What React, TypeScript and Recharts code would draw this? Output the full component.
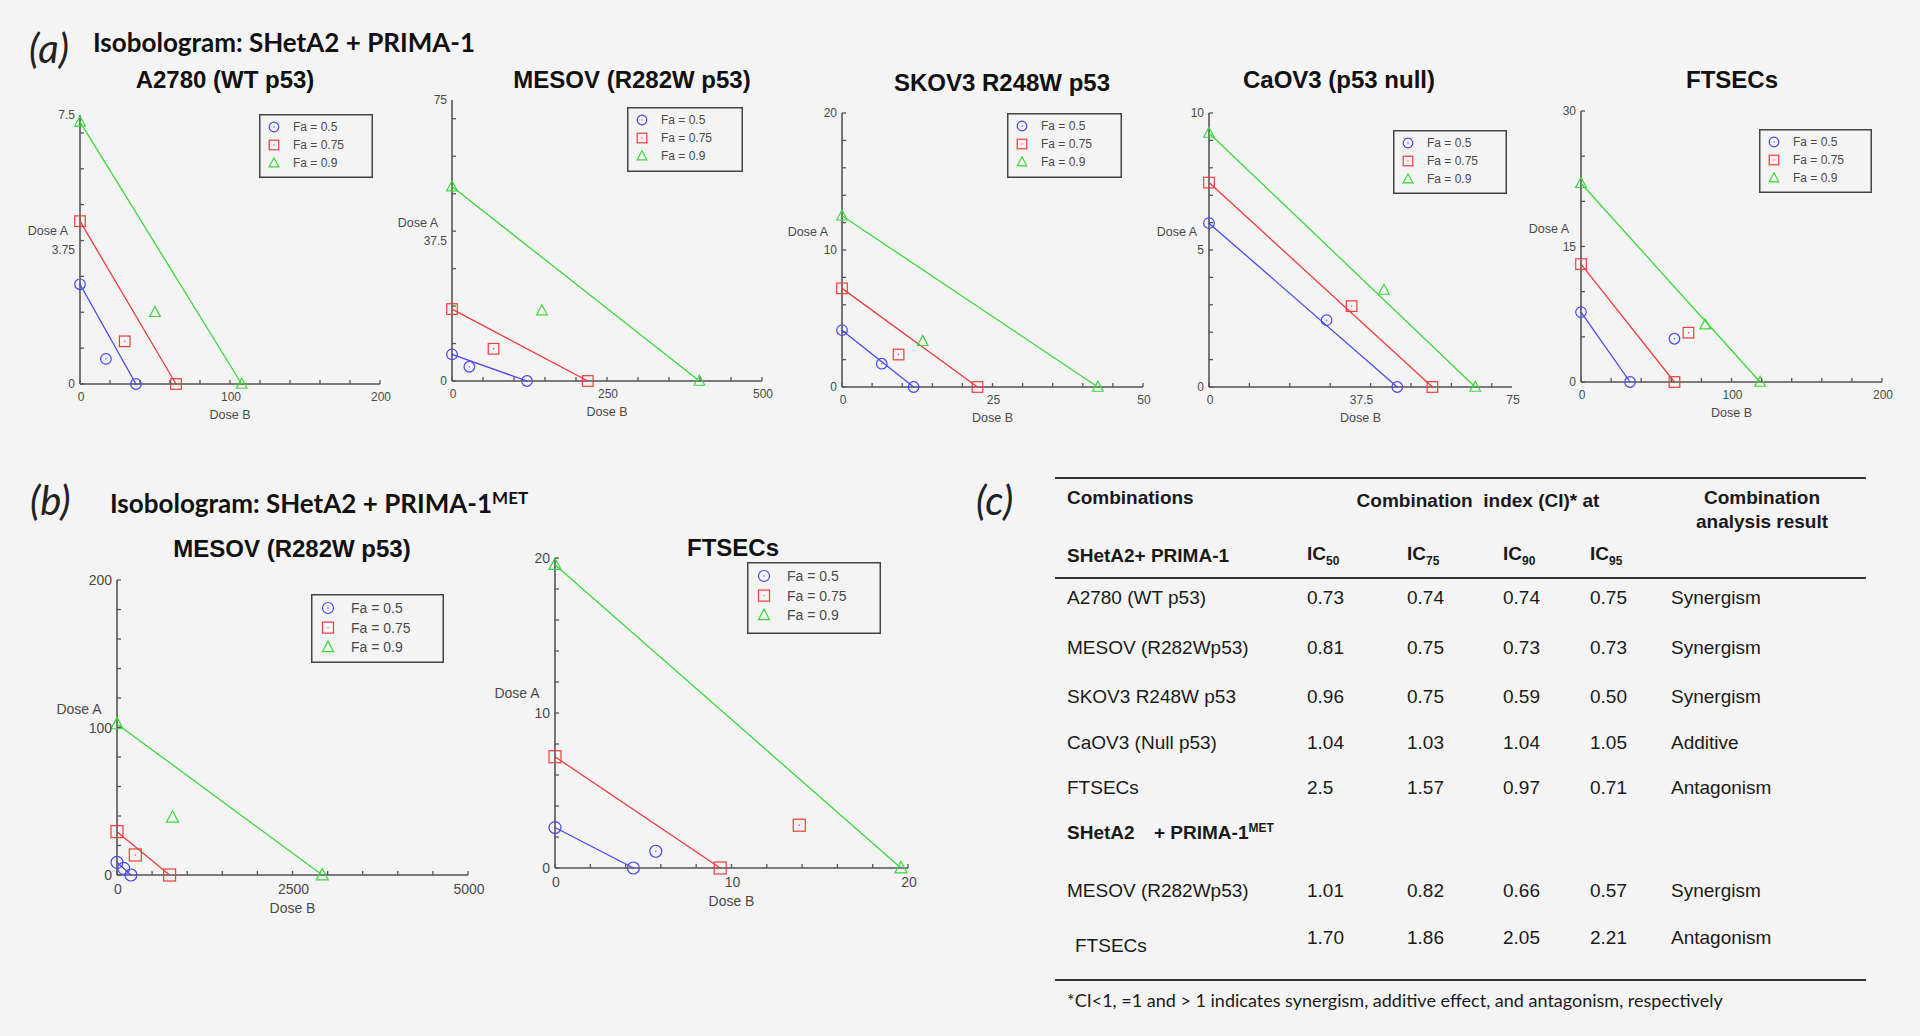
import React from 'react';
import { ScatterChart, Scatter, XAxis, YAxis } from 'recharts';

const BG = '#f4f4f4';
const AXIS = '#555555';
const TXT = '#4a4a4a';
const BLUE = '#4848f0';
const RED = '#f03c3c';
const GREEN = '#3cd83c';
const SANS = '"Liberation Sans", Arial, sans-serif';
const HEAD = 'Lato, "Noto Sans", sans-serif';

const FA_LABELS = ['Fa = 0.5', 'Fa = 0.75', 'Fa = 0.9'];
const FA_COLORS = [BLUE, RED, GREEN];
const FA_SHAPES = ['circle', 'square', 'triangle'];

type Pt = { x: number; y: number };

// (a) SHetA2 + PRIMA-1 : [Dose A alone, combination, Dose B alone]
const A2780_FA50: Pt[] = [{ x: 0, y: 2.78 }, { x: 17.3, y: 0.7 }, { x: 37.3, y: 0 }];
const A2780_FA75: Pt[] = [{ x: 0, y: 4.54 }, { x: 29.8, y: 1.19 }, { x: 64, y: 0 }];
const A2780_FA90: Pt[] = [{ x: 0, y: 7.31 }, { x: 50, y: 2.0 }, { x: 107.8, y: 0 }];

const MESOV_FA50: Pt[] = [{ x: 0, y: 7.1 }, { x: 28, y: 3.8 }, { x: 121, y: 0 }];
const MESOV_FA75: Pt[] = [{ x: 0, y: 19.2 }, { x: 67, y: 8.6 }, { x: 219, y: 0 }];
const MESOV_FA90: Pt[] = [{ x: 0, y: 51.9 }, { x: 145, y: 18.8 }, { x: 399, y: 0 }];

const SKOV3_FA50: Pt[] = [{ x: 0, y: 4.15 }, { x: 6.6, y: 1.7 }, { x: 11.9, y: 0 }];
const SKOV3_FA75: Pt[] = [{ x: 0, y: 7.2 }, { x: 9.4, y: 2.37 }, { x: 22.5, y: 0 }];
const SKOV3_FA90: Pt[] = [{ x: 0, y: 12.5 }, { x: 13.4, y: 3.34 }, { x: 42.5, y: 0 }];

const CAOV3_FA50: Pt[] = [{ x: 0, y: 5.98 }, { x: 29.1, y: 2.44 }, { x: 46.6, y: 0 }];
const CAOV3_FA75: Pt[] = [{ x: 0, y: 7.46 }, { x: 35.3, y: 2.95 }, { x: 55.3, y: 0 }];
const CAOV3_FA90: Pt[] = [{ x: 0, y: 9.27 }, { x: 43.3, y: 3.54 }, { x: 65.9, y: 0 }];

const FTSEC_FA50: Pt[] = [{ x: 0, y: 7.74 }, { x: 62.1, y: 4.79 }, { x: 32.6, y: 0 }];
const FTSEC_FA75: Pt[] = [{ x: 0, y: 13.05 }, { x: 71.4, y: 5.46 }, { x: 62.1, y: 0 }];
const FTSEC_FA90: Pt[] = [{ x: 0, y: 22.0 }, { x: 82.5, y: 6.34 }, { x: 119, y: 0 }];

// (b) SHetA2 + PRIMA-1MET
const MESOV_MET_FA50: Pt[] = [{ x: 0, y: 8.6 }, { x: 95, y: 4.5 }, { x: 199, y: 0 }];
const MESOV_MET_FA75: Pt[] = [{ x: 0, y: 29.4 }, { x: 261, y: 13.6 }, { x: 749, y: 0 }];
const MESOV_MET_FA90: Pt[] = [{ x: 0, y: 102.4 }, { x: 791, y: 39.1 }, { x: 2924, y: 0 }];

const FTSEC_MET_FA50: Pt[] = [{ x: 0, y: 2.61 }, { x: 5.71, y: 1.08 }, { x: 4.44, y: 0 }];
const FTSEC_MET_FA75: Pt[] = [{ x: 0, y: 7.18 }, { x: 13.84, y: 2.76 }, { x: 9.36, y: 0 }];
const FTSEC_MET_FA90: Pt[] = [{ x: 0, y: 19.57 }, { x: 19.6, y: 0 }];

// axis ticks (minor) and labelled ticks
const TICKS_0_200_BY20 = [0, 20, 40, 60, 80, 100, 120, 140, 160, 180, 200];
const TICKS_0_7 = [0, 1, 2, 3, 4, 5, 6, 7];
const TICKS_0_500_BY50 = [0, 50, 100, 150, 200, 250, 300, 350, 400, 450, 500];
const TICKS_0_70_BY10 = [0, 10, 20, 30, 40, 50, 60, 70];
const TICKS_0_50_BY5 = [0, 5, 10, 15, 20, 25, 30, 35, 40, 45, 50];
const TICKS_0_20_BY2 = [0, 2, 4, 6, 8, 10, 12, 14, 16, 18, 20];
const TICKS_0_10 = [0, 1, 2, 3, 4, 5, 6, 7, 8, 9, 10];
const TICKS_0_30_BY5 = [0, 5, 10, 15, 20, 25, 30];
const TICKS_0_5000_BY500 = [0, 500, 1000, 1500, 2000, 2500, 3000, 3500, 4000, 4500, 5000];
const TICKS_0_200_BY20_Y = [0, 20, 40, 60, 80, 100, 120, 140, 160, 180, 200];

// table (c)
const IC_LEVELS = ['50', '75', '90', '95'];
const GROUP1_ROWS = ['A2780 (WT p53)', 'MESOV (R282Wp53)', 'SKOV3 R248W p53', 'CaOV3 (Null p53)', 'FTSECs'];
const GROUP1_CI = [
  ['0.73', '0.74', '0.74', '0.75'],
  ['0.81', '0.75', '0.73', '0.73'],
  ['0.96', '0.75', '0.59', '0.50'],
  ['1.04', '1.03', '1.04', '1.05'],
  ['2.5', '1.57', '0.97', '0.71'],
];
const GROUP1_RESULT = ['Synergism', 'Synergism', 'Synergism', 'Additive', 'Antagonism'];
const GROUP2_ROWS = ['MESOV (R282Wp53)', 'FTSECs'];
const GROUP2_CI = [
  ['1.01', '0.82', '0.66', '0.57'],
  ['1.70', '1.86', '2.05', '2.21'],
];
const GROUP2_RESULT = ['Synergism', 'Antagonism'];

interface PlotCfg {
  title: string;
  box: [number, number, number, number];
  titleAt: [number, number];
  doseAAt: [number, number];
  xMax: number;
  yMax: number;
  xMinor: number[];
  yMinor: number[];
  xLabels: number[];
  yLabels: number[];
  series: Pt[][];
  legend: [number, number, number, number];
  big: boolean;
}

const PLOTS: PlotCfg[] = [
  {
    title: 'A2780 (WT p53)', box: [80, 115, 380, 384], titleAt: [225, 80], doseAAt: [48, 231],
    xMax: 200, yMax: 7.5, xMinor: TICKS_0_200_BY20, yMinor: TICKS_0_7, xLabels: [0, 100, 200], yLabels: [0, 3.75, 7.5],
    series: [A2780_FA50, A2780_FA75, A2780_FA90], legend: [259, 114, 114, 64], big: false,
  },
  {
    title: 'MESOV (R282W p53)', box: [452, 100, 762, 381], titleAt: [632, 80], doseAAt: [418, 223],
    xMax: 500, yMax: 75, xMinor: TICKS_0_500_BY50, yMinor: TICKS_0_70_BY10, xLabels: [0, 250, 500], yLabels: [0, 37.5, 75],
    series: [MESOV_FA50, MESOV_FA75, MESOV_FA90], legend: [627, 107, 116, 65], big: false,
  },
  {
    title: 'SKOV3 R248W p53', box: [842, 113, 1143, 387], titleAt: [1002, 83], doseAAt: [808, 232],
    xMax: 50, yMax: 20, xMinor: TICKS_0_50_BY5, yMinor: TICKS_0_20_BY2, xLabels: [0, 25, 50], yLabels: [0, 10, 20],
    series: [SKOV3_FA50, SKOV3_FA75, SKOV3_FA90], legend: [1007, 113, 115, 65], big: false,
  },
  {
    title: 'CaOV3 (p53 null)', box: [1209, 113, 1512, 387], titleAt: [1339, 80], doseAAt: [1177, 232],
    xMax: 75, yMax: 10, xMinor: TICKS_0_70_BY10, yMinor: TICKS_0_10, xLabels: [0, 37.5, 75], yLabels: [0, 5, 10],
    series: [CAOV3_FA50, CAOV3_FA75, CAOV3_FA90], legend: [1393, 130, 114, 64], big: false,
  },
  {
    title: 'FTSECs', box: [1581, 111, 1882, 382], titleAt: [1732, 80], doseAAt: [1549, 229],
    xMax: 200, yMax: 30, xMinor: TICKS_0_200_BY20, yMinor: TICKS_0_30_BY5, xLabels: [0, 100, 200], yLabels: [0, 15, 30],
    series: [FTSEC_FA50, FTSEC_FA75, FTSEC_FA90], legend: [1759, 129, 113, 64], big: false,
  },
  {
    title: 'MESOV (R282W p53)', box: [117, 580, 468, 875], titleAt: [292, 549], doseAAt: [79, 709],
    xMax: 5000, yMax: 200, xMinor: TICKS_0_5000_BY500, yMinor: TICKS_0_200_BY20_Y, xLabels: [0, 2500, 5000], yLabels: [0, 100, 200],
    series: [MESOV_MET_FA50, MESOV_MET_FA75, MESOV_MET_FA90], legend: [311, 594, 133, 69], big: true,
  },
  {
    title: 'FTSECs', box: [555, 558, 908, 868], titleAt: [733, 548], doseAAt: [517, 693],
    xMax: 20, yMax: 20, xMinor: TICKS_0_20_BY2, yMinor: TICKS_0_20_BY2, xLabels: [0, 10, 20], yLabels: [0, 10, 20],
    series: [FTSEC_MET_FA50, FTSEC_MET_FA75, FTSEC_MET_FA90], legend: [747, 562, 134, 72], big: true,
  },
];

const mergeTicks = (a: number[], b: number[]) => Array.from(new Set([...a, ...b])).sort((p, q) => p - q);

function Marker({ kind, cx, cy, r, color }: { kind: string; cx: number; cy: number; r: number; color: string }) {
  if (kind === 'circle') {
    return (
      <g>
        <circle cx={cx} cy={cy} r={r} fill="none" stroke={color} strokeWidth={1.2} />
        <circle cx={cx} cy={cy} r={0.7} fill={color} />
      </g>
    );
  }
  if (kind === 'square') {
    return (
      <g>
        <rect x={cx - r} y={cy - r} width={2 * r} height={2 * r} fill="none" stroke={color} strokeWidth={1.2} />
        <circle cx={cx} cy={cy} r={0.7} fill={color} />
      </g>
    );
  }
  const pts = `${cx},${cy - r * 1.1} ${cx - r},${cy + r * 0.8} ${cx + r},${cy + r * 0.8}`;
  return <polygon points={pts} fill="none" stroke={color} strokeWidth={1.2} />;
}

function IsoLegend({ box, big }: { box: [number, number, number, number]; big: boolean }) {
  const [lx, ly, w, h] = box;
  const fs = big ? 14 : 12;
  const gap = big ? 19.6 : 18;
  const first = big ? 14 : 13;
  const symX = big ? 17 : 15;
  const txtX = big ? 40 : 34;
  const r = big ? 5.5 : 4.8;
  return (
    <svg style={{ position: 'absolute', left: lx, top: ly }} width={w} height={h}>
      <rect x={0.75} y={0.75} width={w - 1.5} height={h - 1.5} fill="none" stroke="#444" strokeWidth={1.5} />
      {FA_LABELS.map((lab, i) => (
        <g key={lab}>
          <Marker kind={FA_SHAPES[i]} cx={symX} cy={first + i * gap} r={r} color={FA_COLORS[i]} />
          <text x={txtX} y={first + i * gap + fs * 0.36} fontSize={fs} fontFamily={SANS} fill={TXT}>
            {lab}
          </text>
        </g>
      ))}
    </svg>
  );
}

function IsoPlot({ cfg }: { cfg: PlotCfg }) {
  const [L, T, R, B] = cfg.box;
  const padL = 60;
  const padT = 14;
  const padR = 24;
  const padB = 40;
  const fs = cfg.big ? 14 : 12;
  const mr = cfg.big ? 6 : 5.3;
  const xTicks = mergeTicks(cfg.xMinor, cfg.xLabels);
  const yTicks = mergeTicks(cfg.yMinor, cfg.yLabels);

  const xTick = (props: any) => {
    const { x, y, payload } = props;
    const v = payload.value;
    return (
      <g>
        {cfg.xMinor.includes(v) && <line x1={x} y1={y} x2={x} y2={y - 4} stroke={AXIS} strokeWidth={1.3} />}
        {cfg.xLabels.includes(v) && (
          <text x={x + 1} y={y + fs + 5} textAnchor="middle" fontSize={fs} fontFamily={SANS} fill={TXT}>
            {v}
          </text>
        )}
      </g>
    );
  };
  const yTick = (props: any) => {
    const { x, y, payload } = props;
    const v = payload.value;
    return (
      <g>
        {cfg.yMinor.includes(v) && <line x1={x} y1={y} x2={x + 4} y2={y} stroke={AXIS} strokeWidth={1.3} />}
        {cfg.yLabels.includes(v) && (
          <text x={x - 5} y={y + fs * 0.36} textAnchor="end" fontSize={fs} fontFamily={SANS} fill={TXT}>
            {v}
          </text>
        )}
      </g>
    );
  };

  return (
    <div style={{ position: 'absolute', left: L - padL, top: T - padT }}>
      <ScatterChart
        width={R - L + padL + padR}
        height={B - T + padT + padB}
        margin={{ top: padT, right: padR, bottom: 0, left: 0 }}
      >
        <XAxis
          type="number"
          dataKey="x"
          domain={[0, cfg.xMax]}
          ticks={xTicks}
          interval={0}
          tickSize={0}
          tickMargin={0}
          tickLine={false}
          axisLine={{ stroke: AXIS, strokeWidth: 1.6 }}
          height={padB}
          tick={xTick}
        />
        <YAxis
          type="number"
          dataKey="y"
          domain={[0, cfg.yMax]}
          ticks={yTicks}
          interval={0}
          tickSize={0}
          tickMargin={0}
          tickLine={false}
          axisLine={{ stroke: AXIS, strokeWidth: 1.6 }}
          width={padL}
          tick={yTick}
        />
        {cfg.series.map((pts, i) => (
          <Scatter
            key={`line-${i}`}
            data={[pts[0], pts[pts.length - 1]]}
            line={{ stroke: FA_COLORS[i], strokeWidth: 1.3 }}
            shape={() => <g />}
            isAnimationActive={false}
          />
        ))}
        {cfg.series.map((pts, i) => (
          <Scatter
            key={`pts-${i}`}
            data={pts}
            isAnimationActive={false}
            shape={(p: any) => <Marker kind={FA_SHAPES[i]} cx={p.cx} cy={p.cy} r={mr} color={FA_COLORS[i]} />}
          />
        ))}
      </ScatterChart>
    </div>
  );
}

const abs = (x: number, y: number, extra: React.CSSProperties = {}): React.CSSProperties => ({
  position: 'absolute',
  left: x,
  top: y,
  transform: 'translateY(-50%)',
  whiteSpace: 'nowrap',
  lineHeight: 1,
  ...extra,
});
const center = (x: number, y: number, extra: React.CSSProperties = {}): React.CSSProperties => ({
  ...abs(x, y, extra),
  transform: 'translate(-50%, -50%)',
});

function PlotTexts({ cfg }: { cfg: PlotCfg }) {
  const [L, , R, B] = cfg.box;
  const fs = cfg.big ? 14 : 12.5;
  return (
    <>
      <div style={center(cfg.titleAt[0], cfg.titleAt[1], { fontFamily: SANS, fontWeight: 700, fontSize: 24, color: '#111' })}>
        {cfg.title}
      </div>
      <div style={center(cfg.doseAAt[0], cfg.doseAAt[1], { fontFamily: SANS, fontSize: fs, color: TXT })}>Dose A</div>
      <div style={center((L + R) / 2, B + (cfg.big ? 33 : 31), { fontFamily: SANS, fontSize: fs, color: TXT })}>Dose B</div>
      <IsoLegend box={cfg.legend} big={cfg.big} />
    </>
  );
}

const IC_X = [1307, 1407, 1503, 1590];
const RESULT_X = 1671;
const LABEL_X = 1067;
const G1_Y = [597, 647, 696, 742, 787];
const G2_Y = [890, 937];
const TFS = 19;

function CITable() {
  const txt: React.CSSProperties = { fontFamily: SANS, fontSize: TFS, color: '#1a1a1a' };
  const bold: React.CSSProperties = { ...txt, fontWeight: 700 };
  const rule = (y: number) => (
    <div style={{ position: 'absolute', left: 1055, top: y - 1, width: 811, height: 2, background: '#333' }} />
  );
  const ciRow = (vals: string[], y: number) =>
    vals.map((v, j) => (
      <div key={j} style={abs(IC_X[j], y, txt)}>
        {v}
      </div>
    ));
  return (
    <>
      <div style={abs(976, 500, { fontFamily: HEAD, fontStyle: 'italic', fontWeight: 400, fontSize: 40, color: '#222' })}>(c)</div>
      {rule(478)}
      {rule(578)}
      {rule(980)}
      <div style={abs(LABEL_X, 497, bold)}>Combinations</div>
      <div style={center(1478, 500, bold)}>Combination&nbsp; index (CI)* at</div>
      <div style={center(1762, 497, bold)}>Combination</div>
      <div style={center(1762, 521, bold)}>analysis result</div>
      <div style={abs(LABEL_X, 555, bold)}>SHetA2+ PRIMA-1</div>
      {IC_LEVELS.map((lv, j) => (
        <div key={lv} style={abs(IC_X[j], 555, bold)}>
          IC<sub style={{ fontSize: 12, verticalAlign: -5 }}>{lv}</sub>
        </div>
      ))}
      {GROUP1_ROWS.map((name, i) => (
        <React.Fragment key={`g1-${i}`}>
          <div style={abs(LABEL_X, G1_Y[i], txt)}>{name}</div>
          {ciRow(GROUP1_CI[i], G1_Y[i])}
          <div style={abs(RESULT_X, G1_Y[i], txt)}>{GROUP1_RESULT[i]}</div>
        </React.Fragment>
      ))}
      <div style={abs(LABEL_X, 832, bold)}>SHetA2</div>
      <div style={abs(1154, 832, bold)}>
        + PRIMA-1<sup style={{ fontSize: 12, verticalAlign: 7 }}>MET</sup>
      </div>
      {GROUP2_ROWS.map((name, i) => (
        <React.Fragment key={`g2-${i}`}>
          <div style={abs(i === 1 ? 1075 : LABEL_X, i === 1 ? G2_Y[i] + 8 : G2_Y[i], txt)}>{name}</div>
          {ciRow(GROUP2_CI[i], G2_Y[i])}
          <div style={abs(RESULT_X, G2_Y[i], txt)}>{GROUP2_RESULT[i]}</div>
        </React.Fragment>
      ))}
      <div style={abs(LABEL_X, 1000, { fontFamily: HEAD, fontSize: 18, color: '#1a1a1a' })}>
        *CI&lt;1, =1 and &gt; 1 indicates synergism, additive effect, and antagonism, respectively
      </div>
    </>
  );
}

export default function App() {
  const headStyle: React.CSSProperties = { fontFamily: HEAD, fontWeight: 700, fontSize: 26, color: '#111' };
  const panelStyle: React.CSSProperties = { fontFamily: HEAD, fontStyle: 'italic', fontWeight: 400, fontSize: 40, color: '#222' };
  return (
    <div style={{ position: 'absolute', left: 0, top: 0, width: 1920, height: 1036, background: BG, overflow: 'hidden' }}>
      <div style={abs(29, 48, panelStyle)}>(a)</div>
      <div style={abs(93, 42, headStyle)}>Isobologram: SHetA2 + PRIMA-1</div>
      <div style={abs(30, 500, panelStyle)}>(b)</div>
      <div style={abs(110, 502, headStyle)}>
        Isobologram: SHetA2 + PRIMA-1<sup style={{ fontSize: 17, verticalAlign: 9 }}>MET</sup>
      </div>
      {PLOTS.map((cfg, i) => (
        <React.Fragment key={i}>
          <IsoPlot cfg={cfg} />
          <PlotTexts cfg={cfg} />
        </React.Fragment>
      ))}
      <CITable />
    </div>
  );
}
